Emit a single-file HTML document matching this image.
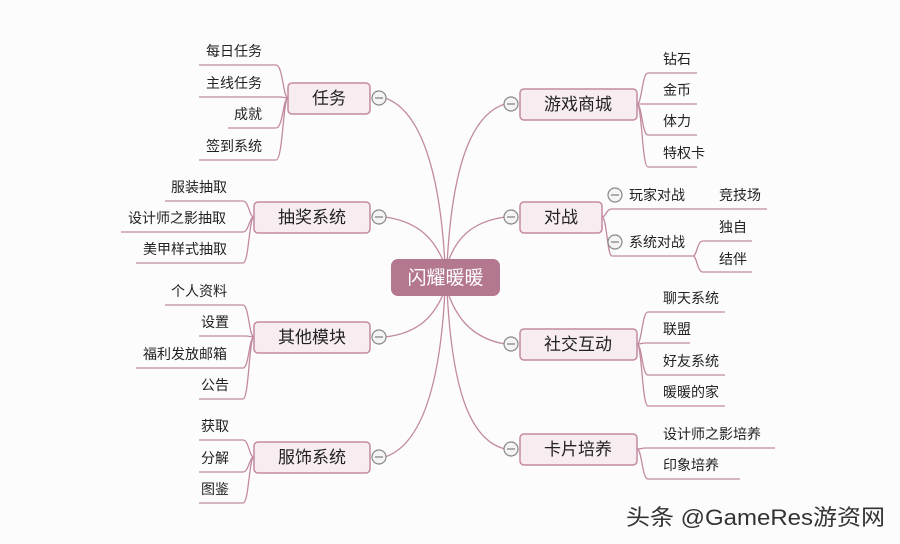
<!DOCTYPE html>
<html><head><meta charset="utf-8"><style>
html,body{margin:0;padding:0;background:#fdfcfd;}
svg{display:block;}
text{font-family:"Liberation Sans","Noto Sans CJK SC",sans-serif;fill:#222;}
.l{font-size:14px;}
.m{font-size:17px;}
.ln{stroke:#c28aa0;stroke-width:1.3;fill:none;}
.box{fill:#f7edf1;stroke:#c48aa1;stroke-width:1.5;}
.c{fill:#f4f4f4;stroke:#888;stroke-width:1.2;}
</style></head><body>
<svg width="900" height="544" viewBox="0 0 900 544" xmlns="http://www.w3.org/2000/svg">
<g class="ln">
<path d="M445 265 C440 170 420 110 385 98"/>
<path d="M445 265 C435 240 420 222 385 217"/>
<path d="M445 290 C435 315 420 333 385 337"/>
<path d="M445 290 C440 390 420 445 385 457"/>
<path d="M447 265 C452 170 470 115 505 104"/>
<path d="M447 265 C455 240 470 222 505 217"/>
<path d="M447 290 C455 315 470 338 505 344"/>
<path d="M447 290 C452 390 470 440 505 449"/>
<path d="M288 98 C283 98 283 65 276 65 L199 65"/>
<path d="M288 98 C284 98 284 97 280 97 L199 97"/>
<path d="M288 98 C283 98 283 128 276 128 L228 128"/>
<path d="M288 98 C283 98 283 160 276 160 L199 160"/>
<path d="M254 217 C249 217 249 201 243 201 L165 201"/>
<path d="M254 217 C249 217 249 232 243 232 L121 232"/>
<path d="M254 217 C249 217 249 263 243 263 L136 263"/>
<path d="M254 337 C249 337 249 305 243 305 L165 305"/>
<path d="M254 337 C250 337 250 336 245 336 L199 336"/>
<path d="M254 337 C249 337 249 368 243 368 L136 368"/>
<path d="M254 337 C249 337 249 399 243 399 L199 399"/>
<path d="M254 457 C249 457 249 440 243 440 L199 440"/>
<path d="M254 457 C249 457 249 472 243 472 L199 472"/>
<path d="M254 457 C249 457 249 503 243 503 L199 503"/>
<path d="M637 104 C642 104 642 73 648 73 L697 73"/>
<path d="M637 104 C641 104 641 104 645 104 L697 104"/>
<path d="M637 104 C642 104 642 135 648 135 L697 135"/>
<path d="M637 104 C642 104 642 167 648 167 L697 167"/>
<path d="M602 217 C606 217 606 209 612 209 L767 209"/>
<path d="M602 217 C607 217 607 256 612 256 L693 256"/>
<path d="M693 256 C697 256 697 241 703 241 L752 241"/>
<path d="M693 256 C697 256 697 272 703 272 L752 272"/>
<path d="M637 344 C642 344 642 312 648 312 L725 312"/>
<path d="M637 344 C642 344 642 343 645 343 L690 343"/>
<path d="M637 344 C642 344 642 375 648 375 L725 375"/>
<path d="M637 344 C642 344 642 406 648 406 L725 406"/>
<path d="M637 449 C642 449 642 448 645 448 L775 448"/>
<path d="M637 449 C642 449 642 479 648 479 L740 479"/>
</g>
<rect x="391" y="259" width="109" height="37" rx="7" fill="#b47790"/>
<text x="445.5" y="284" text-anchor="middle" style="font-size:19px;fill:#fff">闪耀暖暖</text>
<rect class="box" x="288" y="83" width="82" height="31" rx="4"/><text class="m" x="329" y="104" text-anchor="middle">任务</text>
<rect class="box" x="254" y="202" width="116" height="31" rx="4"/><text class="m" x="312" y="223" text-anchor="middle">抽奖系统</text>
<rect class="box" x="254" y="322" width="116" height="31" rx="4"/><text class="m" x="312" y="343" text-anchor="middle">其他模块</text>
<rect class="box" x="254" y="442" width="116" height="31" rx="4"/><text class="m" x="312" y="463" text-anchor="middle">服饰系统</text>
<rect class="box" x="520" y="89" width="117" height="31" rx="4"/><text class="m" x="578" y="110" text-anchor="middle">游戏商城</text>
<rect class="box" x="520" y="202" width="82" height="31" rx="4"/><text class="m" x="561" y="223" text-anchor="middle">对战</text>
<rect class="box" x="520" y="329" width="117" height="31" rx="4"/><text class="m" x="578" y="350" text-anchor="middle">社交互动</text>
<rect class="box" x="520" y="434" width="117" height="31" rx="4"/><text class="m" x="578" y="455" text-anchor="middle">卡片培养</text>
<g>
<circle class="c" cx="379" cy="98" r="7"/><line x1="375" y1="98" x2="383" y2="98" stroke="#666"/>
<circle class="c" cx="379" cy="217" r="7"/><line x1="375" y1="217" x2="383" y2="217" stroke="#666"/>
<circle class="c" cx="379" cy="337" r="7"/><line x1="375" y1="337" x2="383" y2="337" stroke="#666"/>
<circle class="c" cx="379" cy="457" r="7"/><line x1="375" y1="457" x2="383" y2="457" stroke="#666"/>
<circle class="c" cx="511" cy="104" r="7"/><line x1="507" y1="104" x2="515" y2="104" stroke="#666"/>
<circle class="c" cx="511" cy="217" r="7"/><line x1="507" y1="217" x2="515" y2="217" stroke="#666"/>
<circle class="c" cx="511" cy="344" r="7"/><line x1="507" y1="344" x2="515" y2="344" stroke="#666"/>
<circle class="c" cx="511" cy="449" r="7"/><line x1="507" y1="449" x2="515" y2="449" stroke="#666"/>
<circle class="c" cx="615" cy="195" r="7"/><line x1="611" y1="195" x2="619" y2="195" stroke="#666"/>
<circle class="c" cx="615" cy="242" r="7"/><line x1="611" y1="242" x2="619" y2="242" stroke="#666"/>
</g>
<g class="l">
<text x="206" y="56">每日任务</text>
<text x="206" y="88">主线任务</text>
<text x="234" y="119">成就</text>
<text x="206" y="151">签到系统</text>
<text x="171" y="192">服装抽取</text>
<text x="128" y="223">设计师之影抽取</text>
<text x="143" y="254">美甲样式抽取</text>
<text x="171" y="296">个人资料</text>
<text x="201" y="327">设置</text>
<text x="143" y="359">福利发放邮箱</text>
<text x="201" y="390">公告</text>
<text x="201" y="431">获取</text>
<text x="201" y="463">分解</text>
<text x="201" y="494">图鉴</text>
<text x="663" y="64">钻石</text>
<text x="663" y="95">金币</text>
<text x="663" y="126">体力</text>
<text x="663" y="158">特权卡</text>
<text x="629" y="200">玩家对战</text>
<text x="719" y="200">竞技场</text>
<text x="629" y="247">系统对战</text>
<text x="719" y="232">独自</text>
<text x="719" y="264">结伴</text>
<text x="663" y="303">聊天系统</text>
<text x="663" y="334">联盟</text>
<text x="663" y="366">好友系统</text>
<text x="663" y="397">暖暖的家</text>
<text x="663" y="439">设计师之影培养</text>
<text x="663" y="470">印象培养</text>
</g>
<text x="626" y="525" textLength="259" lengthAdjust="spacingAndGlyphs" style="font-size:22px;fill:#333">头条 @GameRes游资网</text>
</svg>
</body></html>
